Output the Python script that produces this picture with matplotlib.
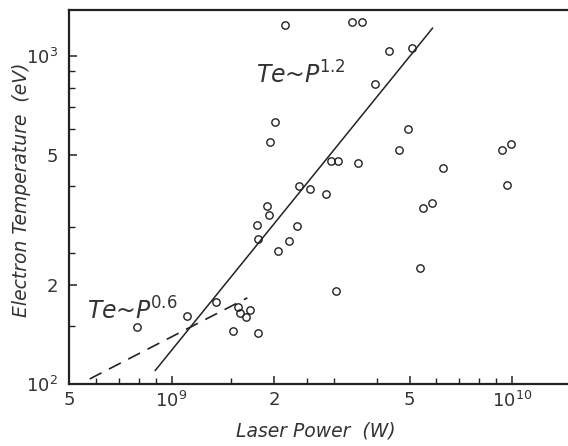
import matplotlib
matplotlib.use("Agg")
import matplotlib.pyplot as plt
from matplotlib.ticker import FixedLocator, FixedFormatter, NullFormatter

power = [2.16e9, 3.39e9, 3.62e9, 4.34e9, 5.10e9, 3.97e9, 2.01e9, 1.94e9,
         4.95e9, 4.66e9, 9.33e9, 9.96e9, 9.66e9, 6.25e9, 2.94e9, 3.08e9,
         3.54e9, 2.36e9, 2.55e9, 2.85e9, 5.46e9, 5.81e9, 1.91e9, 1.93e9,
         1.78e9, 2.33e9, 1.80e9, 2.21e9, 2.06e9, 5.35e9, 3.04e9, 1.35e9,
         1.11e9, 7.94e8, 1.57e9, 1.59e9, 1.70e9, 1.65e9, 1.52e9, 1.79e9]
te = [1242, 1265, 1265, 1035, 1055, 820, 628, 546,
      600, 518, 518, 538, 405, 456, 479, 477,
      472, 402, 392, 380, 344, 357, 348, 328,
      306, 303, 277, 273, 254, 226, 192, 178,
      161, 149, 172, 164, 168, 160, 145, 143]

# fitted lines (end points)
fit12_p = [8.96e8, 5.84e9]
fit12_te = [110, 1213]
fit06_p = [5.75e8, 1.67e9]
fit06_te = [103.6, 183]

x_major = [5e8, 1e9, 2e9, 5e9, 1e10]
x_major_labels = ["5", r"$10^9$", "2", "5", r"$10^{10}$"]
x_minor = [6e8, 7e8, 8e8, 9e8, 1.5e9, 2.5e9, 3e9, 4e9, 6e9, 7e9, 8e9, 9e9]
y_major = [100, 200, 500, 1000]
y_major_labels = [r"$10^2$", "2", "5", r"$10^3$"]
y_minor = [150, 250, 300, 400, 600, 700, 800, 900]

plt.rcParams["mathtext.default"] = "it"

fig = plt.figure(figsize=(5.68, 4.46), dpi=100)
ax = fig.add_axes([0.1215, 0.139, 0.8785, 0.839])

ax.plot(power, te, linestyle="none", marker="o", markersize=5.3,
        markerfacecolor="none", markeredgecolor="#222222", markeredgewidth=1.0)
ax.plot(fit12_p, fit12_te, color="#222222", lw=1.1)
ax.plot(fit06_p, fit06_te, color="#222222", lw=1.2, dashes=(8, 5))

ax.set_xscale("log")
ax.set_yscale("log")
ax.set_xlim(5e8, 1.46e10)
ax.set_ylim(100, 1380)

ax.xaxis.set_major_locator(FixedLocator(x_major))
ax.xaxis.set_major_formatter(FixedFormatter(x_major_labels))
ax.xaxis.set_minor_locator(FixedLocator(x_minor))
ax.xaxis.set_minor_formatter(NullFormatter())
ax.yaxis.set_major_locator(FixedLocator(y_major))
ax.yaxis.set_major_formatter(FixedFormatter(y_major_labels))
ax.yaxis.set_minor_locator(FixedLocator(y_minor))
ax.yaxis.set_minor_formatter(NullFormatter())

ax.tick_params(which="both", direction="in", top=False, right=False,
               color="#222222", labelsize=13, labelcolor="#333333")
ax.tick_params(which="major", length=6, width=1.1)
ax.tick_params(which="minor", length=4, width=1.0)
ax.tick_params(axis="x", which="major", pad=5)
ax.tick_params(axis="y", which="major", pad=8)

ax.spines["right"].set_visible(False)
for side in ["left", "bottom", "top"]:
    ax.spines[side].set_linewidth(1.6)
    ax.spines[side].set_color("#222222")

ax.set_xlabel("Laser Power  (W)", fontsize=13.5, style="italic", color="#333333")
ax.set_ylabel("Electron Temperature  (eV)", fontsize=13.5, style="italic",
              color="#333333")
ax.xaxis.set_label_coords(0.495, -0.1)
ax.yaxis.set_label_coords(-0.076, 0.52)

ax.text(1.77e9, 823, r"Te~P$^{1.2}$", fontsize=17, style="italic",
        color="#333333", va="baseline")
ax.text(5.64e8, 157, r"Te~P$^{0.6}$", fontsize=17, style="italic",
        color="#333333", va="baseline")

fig.savefig("out.png", dpi=100)
